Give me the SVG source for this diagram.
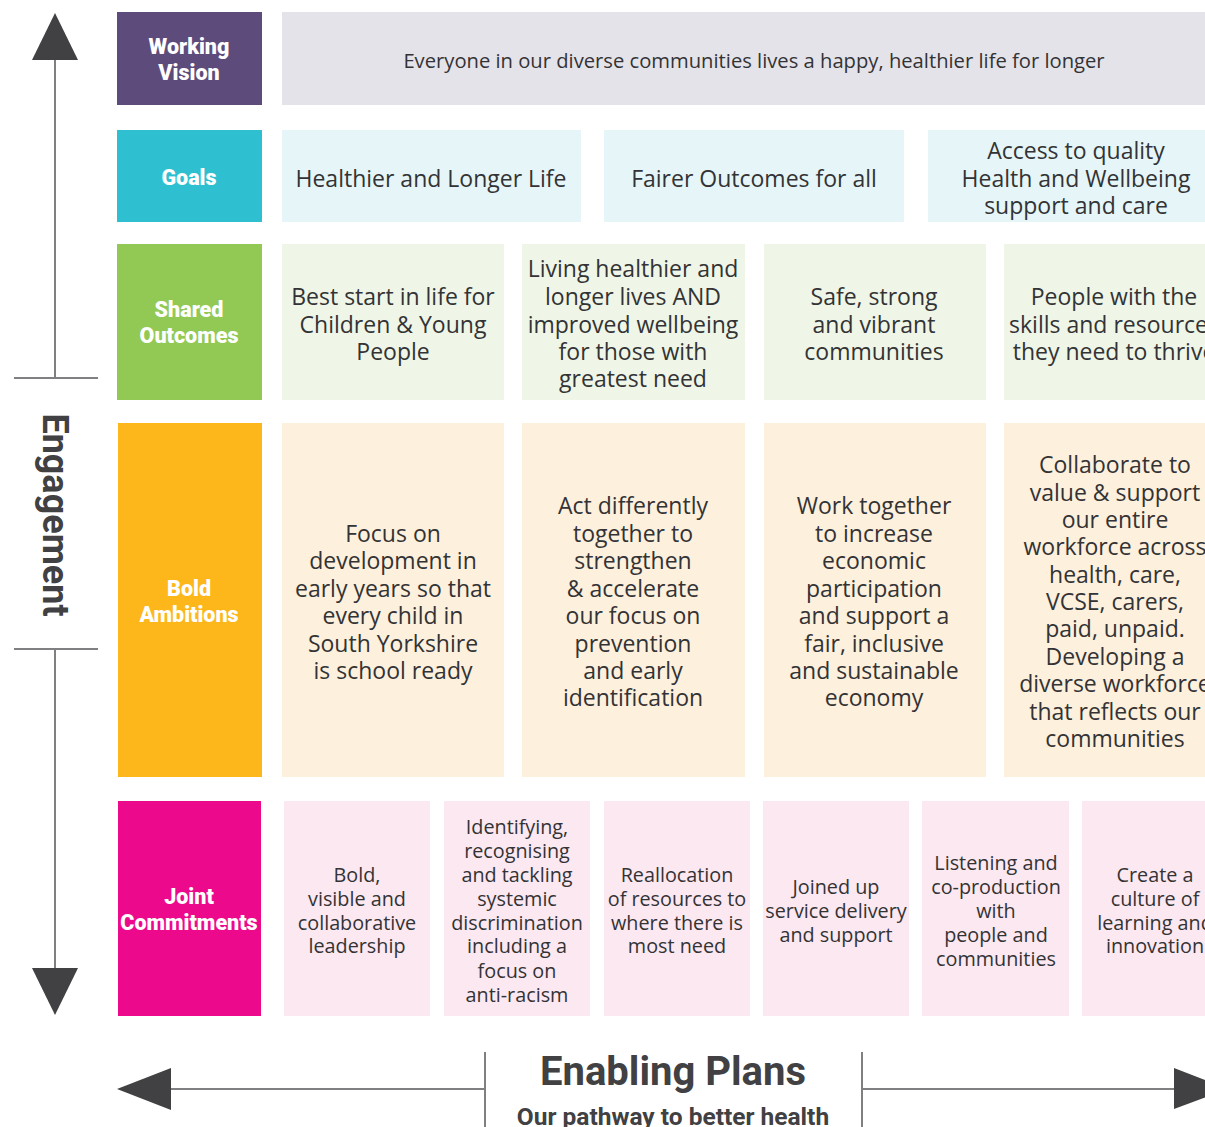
<svg xmlns="http://www.w3.org/2000/svg" width="1205" height="1127" viewBox="0 0 1205 1127">
<style>
.hl{font-family:Roboto,"Liberation Sans",sans-serif;font-weight:900;fill:#fff;font-size:21.5px;text-anchor:middle;dominant-baseline:central}
.t{font-family:"Open Sans","Noto Sans",sans-serif;fill:#333335;text-anchor:middle;dominant-baseline:central}
.t22{font-size:23px}
.t19{font-size:19.8px}
.vis{fill:#e5e3ea}
.goal{fill:#e6f6f8}
.so{fill:#eff6e8}
.ba{fill:#fdf0dd}
.jc{fill:#fce8f1}
.ax{stroke:#808083;stroke-width:2;fill:none}
.ah{fill:#414042}
.big{font-family:Roboto,"Liberation Sans",sans-serif;font-weight:bold;fill:#414042;text-anchor:middle}
</style>
<rect width="1205" height="1127" fill="#fff"/>
<g id="connectors">
<line class="ax" x1="55" y1="58" x2="55" y2="378"/>
<line class="ax" x1="14" y1="378" x2="98" y2="378"/>
<polygon class="ah" points="55,13 32,60 78,60"/>
<line class="ax" x1="55" y1="649" x2="55" y2="970"/>
<line class="ax" x1="14" y1="649" x2="98" y2="649"/>
<polygon class="ah" points="55,1015 32,968 78,968"/>
<line class="ax" x1="170" y1="1089" x2="485" y2="1089"/>
<line class="ax" x1="485" y1="1052" x2="485" y2="1127"/>
<polygon class="ah" points="117,1089 171,1068 171,1110"/>
<line class="ax" x1="862" y1="1089" x2="1176" y2="1089"/>
<line class="ax" x1="862" y1="1052" x2="862" y2="1127"/>
<polygon class="ah" points="1174,1068 1174,1109 1228,1089"/>
</g>
<text class="big" font-size="36" font-weight="900" transform="translate(55,515) rotate(90)" dominant-baseline="central">Engagement</text>
<text class="big" x="673" y="1085" font-size="40">Enabling Plans</text>
<text class="big" x="673" y="1125" font-size="24.5">Our pathway to better health</text>

<g id="h-vision"><rect x="117" y="12" width="145" height="93" fill="#5d4b7b"/><text class="hl"><tspan x="189" y="46">Working</tspan><tspan x="189" y="72">Vision</tspan></text></g>
<g id="h-goals"><rect x="117" y="130" width="145" height="92" fill="#2ec0d0"/><text class="hl" x="189" y="177">Goals</text></g>
<g id="h-shared"><rect x="117" y="244" width="145" height="156" fill="#92c955"/><text class="hl"><tspan x="189" y="309">Shared</tspan><tspan x="189" y="335">Outcomes</tspan></text></g>
<g id="h-bold"><rect x="118" y="423" width="144" height="354" fill="#fdb71b"/><text class="hl"><tspan x="189" y="588">Bold</tspan><tspan x="189" y="614">Ambitions</tspan></text></g>
<g id="h-joint"><rect x="118" y="801" width="143" height="215" fill="#ec098c"/><text class="hl"><tspan x="189" y="896">Joint</tspan><tspan x="189" y="922">Commitments</tspan></text></g>

<g id="vision"><rect class="vis" x="282" y="12" width="930" height="93"/><text class="t" x="754" y="60" font-size="20.2">Everyone in our diverse communities lives a happy, healthier life for longer</text></g>

<g id="goal1"><rect class="goal" x="282" y="130" width="299" height="92"/><text class="t t22" x="431" y="178">Healthier and Longer Life</text></g>
<g id="goal2"><rect class="goal" x="604" y="130" width="300" height="92"/><text class="t t22" x="754" y="178">Fairer Outcomes for all</text></g>
<g id="goal3"><rect class="goal" x="928" y="130" width="284" height="92"/><text class="t t22"><tspan x="1076" y="150">Access to quality</tspan><tspan x="1076" y="178">Health and Wellbeing</tspan><tspan x="1076" y="205">support and care</tspan></text></g>

<g id="so1"><rect class="so" x="282" y="244" width="222" height="156"/><text class="t t22"><tspan x="393" y="296">Best start in life for</tspan><tspan x="393" y="324">Children &amp; Young</tspan><tspan x="393" y="351">People</tspan></text></g>
<g id="so2"><rect class="so" x="522" y="244" width="223" height="156"/><text class="t t22"><tspan x="633" y="268">Living healthier and</tspan><tspan x="633" y="296">longer lives AND</tspan><tspan x="633" y="324">improved wellbeing</tspan><tspan x="633" y="351">for those with</tspan><tspan x="633" y="378">greatest need</tspan></text></g>
<g id="so3"><rect class="so" x="764" y="244" width="222" height="156"/><text class="t t22"><tspan x="874" y="296">Safe, strong</tspan><tspan x="874" y="324">and vibrant</tspan><tspan x="874" y="351">communities</tspan></text></g>
<g id="so4"><rect class="so" x="1004" y="244" width="210" height="156"/><text class="t t22"><tspan x="1114" y="296">People with the</tspan><tspan x="1114" y="324">skills and resources</tspan><tspan x="1114" y="351">they need to thrive</tspan></text></g>

<g id="ba1"><rect class="ba" x="282" y="423" width="222" height="354"/><text class="t t22"><tspan x="393" y="533">Focus on</tspan><tspan x="393" y="560">development in</tspan><tspan x="393" y="588">early years so that</tspan><tspan x="393" y="615">every child in</tspan><tspan x="393" y="643">South Yorkshire</tspan><tspan x="393" y="670">is school ready</tspan></text></g>
<g id="ba2"><rect class="ba" x="522" y="423" width="223" height="354"/><text class="t t22"><tspan x="633" y="505">Act differently</tspan><tspan x="633" y="533">together to</tspan><tspan x="633" y="560">strengthen</tspan><tspan x="633" y="588">&amp; accelerate</tspan><tspan x="633" y="615">our focus on</tspan><tspan x="633" y="643">prevention</tspan><tspan x="633" y="670">and early</tspan><tspan x="633" y="697">identification</tspan></text></g>
<g id="ba3"><rect class="ba" x="764" y="423" width="222" height="354"/><text class="t t22"><tspan x="874" y="505">Work together</tspan><tspan x="874" y="533">to increase</tspan><tspan x="874" y="560">economic</tspan><tspan x="874" y="588">participation</tspan><tspan x="874" y="615">and support a</tspan><tspan x="874" y="643">fair, inclusive</tspan><tspan x="874" y="670">and sustainable</tspan><tspan x="874" y="697">economy</tspan></text></g>
<g id="ba4"><rect class="ba" x="1004" y="423" width="210" height="354"/><text class="t t22"><tspan x="1115" y="464">Collaborate to</tspan><tspan x="1115" y="492">value &amp; support</tspan><tspan x="1115" y="519">our entire</tspan><tspan x="1115" y="546">workforce across</tspan><tspan x="1115" y="574">health, care,</tspan><tspan x="1115" y="601">VCSE, carers,</tspan><tspan x="1115" y="628">paid, unpaid.</tspan><tspan x="1115" y="656">Developing a</tspan><tspan x="1115" y="683">diverse workforce</tspan><tspan x="1115" y="711">that reflects our</tspan><tspan x="1115" y="738">communities</tspan></text></g>

<g id="jc1"><rect class="jc" x="284" y="801" width="146" height="215"/><text class="t t19"><tspan x="357" y="874">Bold,</tspan><tspan x="357" y="898">visible and</tspan><tspan x="357" y="922">collaborative</tspan><tspan x="357" y="945">leadership</tspan></text></g>
<g id="jc2"><rect class="jc" x="444" y="801" width="146" height="215"/><text class="t t19"><tspan x="517" y="826">Identifying,</tspan><tspan x="517" y="850">recognising</tspan><tspan x="517" y="874">and tackling</tspan><tspan x="517" y="898">systemic</tspan><tspan x="517" y="922">discrimination</tspan><tspan x="517" y="945">including a</tspan><tspan x="517" y="970">focus on</tspan><tspan x="517" y="994">anti-racism</tspan></text></g>
<g id="jc3"><rect class="jc" x="604" y="801" width="146" height="215"/><text class="t t19"><tspan x="677" y="874">Reallocation</tspan><tspan x="677" y="898">of resources to</tspan><tspan x="677" y="922">where there is</tspan><tspan x="677" y="945">most need</tspan></text></g>
<g id="jc4"><rect class="jc" x="763" y="801" width="146" height="215"/><text class="t t19"><tspan x="836" y="886">Joined up</tspan><tspan x="836" y="910">service delivery</tspan><tspan x="836" y="934">and support</tspan></text></g>
<g id="jc5"><rect class="jc" x="922" y="801" width="147" height="215"/><text class="t t19"><tspan x="996" y="862">Listening and</tspan><tspan x="996" y="886">co-production</tspan><tspan x="996" y="910">with</tspan><tspan x="996" y="934">people and</tspan><tspan x="996" y="958">communities</tspan></text></g>
<g id="jc6"><rect class="jc" x="1082" y="801" width="140" height="215"/><text class="t t19"><tspan x="1155" y="874">Create a</tspan><tspan x="1155" y="898">culture of</tspan><tspan x="1155" y="922">learning and</tspan><tspan x="1155" y="945">innovation</tspan></text></g>
</svg>
